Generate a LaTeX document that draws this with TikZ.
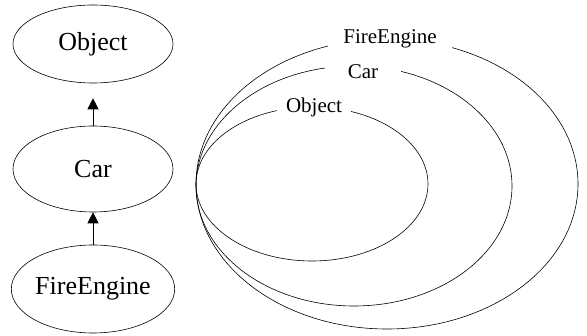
\documentclass[tikz,border=0pt]{standalone}
\usepackage{fontspec}
\setmainfont{Liberation Serif}
\usetikzlibrary{shapes.geometric,arrows.meta}
\begin{document}
\begin{tikzpicture}[x=1pt,y=-1pt,line width=0.6pt,
  cls/.style={ellipse,draw,minimum width=160pt,inner sep=0pt,font=\fontsize{26}{30}\selectfont},
  inh/.style={-{Triangle[length=11pt,width=11pt]}},
  lab/.style={fill=white,inner ysep=1pt,font=\fontsize{21}{25}\selectfont}]
\useasboundingbox (0,0) rectangle (587,336);
% left hierarchy
\node[cls,minimum height=78pt] (obj) at (93,44) {Object};
\node[cls,minimum height=86pt] (car) at (93,169) {Car};
\node[cls,minimum height=88pt] (fire) at (93,289) {FireEngine};
\draw[inh,shorten >=15pt] (car.north) -- (obj.south);
\draw[inh] (fire.north) -- (car.south);
% right nested sets
\draw (387,184) ellipse [x radius=191pt, y radius=145pt];
\draw (354,186) ellipse [x radius=158pt, y radius=120pt];
\draw (312,184) ellipse [x radius=116pt, y radius=77pt];
\node[lab,inner xsep=15pt] (lfire) at (390,39) {FireEngine};
\node[lab,inner xsep=23pt] (lcar) at (363,72) {Car};
\node[lab,inner xsep=9pt] (lobj) at (314,107) {Object};
\end{tikzpicture}
\end{document}
